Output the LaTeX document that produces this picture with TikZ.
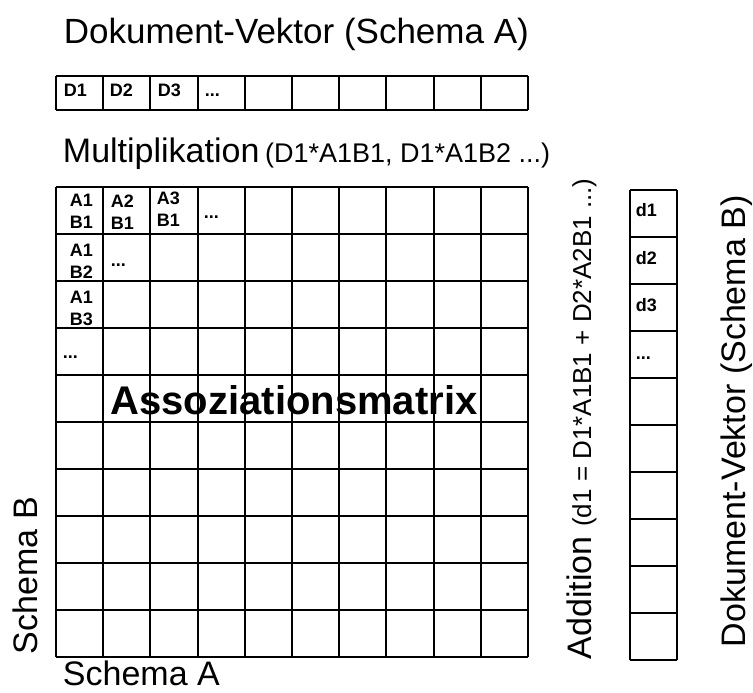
\documentclass[tikz,border=0pt]{standalone}
\usepackage{fontspec}
\setmainfont{Liberation Sans}
\usetikzlibrary{positioning}

\begin{document}
\begin{tikzpicture}[x=1pt,y=1pt,line width=1.9pt,
    cell/.style={font=\fontsize{18}{22}\selectfont\bfseries, inner sep=0pt, anchor=west, align=left},
    big/.style={font=\fontsize{34}{38}\selectfont, inner sep=0pt, anchor=base west}]

    \useasboundingbox (0,0) rectangle (753,693);

    % the three grids
    \draw[shift={(56,583)}, xstep=47.2, ystep=34] (0,0) grid (472,34);
    \draw[shift={(56,36)}, xstep=47.2, ystep=47] (0,0) grid (472,470);
    \draw[shift={(630,33)}, step=47] (0,0) grid (47,470);

    % titles
    \node[big, font=\fontsize{35}{38}\selectfont] (titleA) at (63,649) {Dokument-Vektor (Schema A)};
    \node[big] (mult) at (62,530) {Multiplikation\,{\fontsize{27}{29}\selectfont(D1*A1B1, D1*A1B2 ...)}};
    \node[big] (schemaA) at (62,7) {Schema A};
    \node[big, rotate=90] (schemaB) at (37,38) {Schema B};
    \node[big, rotate=90] (addition) at (591,33) {Addition {\fontsize{26}{28}\selectfont(d1 = D1*A1B1 + D2*A2B1 ...)}};
    \node[big, rotate=90] (titleB) at (745,45) {Dokument-Vektor (Schema B)};

    % vector A
    \node[cell] (D1) at (63,603) {D1};
    \node[cell] (D2) at (109,603) {D2};
    \node[cell] (D3) at (157,603) {D3};
    \node[cell] (Ddots) at (204,598) {...};

    % matrix
    \node[cell] (a1b1) at (69,482) {A1\\B1};
    \node[cell] (a2b1) at (110,481) {A2\\B1};
    \node[cell] (a3b1) at (156,484) {A3\\B1};
    \node[cell] (row1dots) at (203,476) {...};
    \node[cell] (a1b2) at (69,432) {A1\\B2};
    \node[cell] (col1dots) at (110,428) {...};
    \node[cell] (a1b3) at (69,385) {A1\\B3};
    \node[cell] (col0dots) at (62,336) {...};
    \node[font=\fontsize{40}{44}\selectfont\bfseries, inner sep=0pt] (assoc) at (294,293) {Assoziationsmatrix};

    % vector B
    \node[cell] (d1) at (635,483) {d1};
    \node[cell] (d2) at (635,435) {d2};
    \node[cell] (d3) at (635,388) {d3};
    \node[cell] (ddots) at (635,335) {...};

\end{tikzpicture}
\end{document}
